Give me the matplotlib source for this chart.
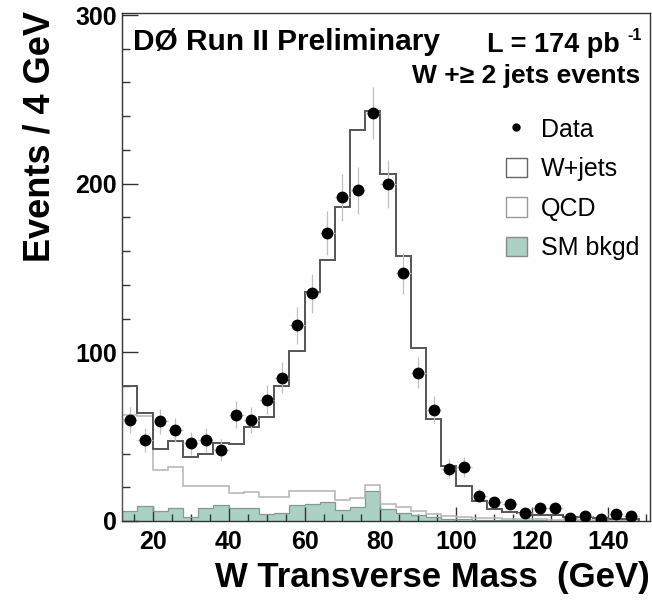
import numpy as np
import matplotlib
matplotlib.use('Agg')
from matplotlib import pyplot as plt
from matplotlib.patches import Patch
from matplotlib.lines import Line2D
from matplotlib.ticker import MultipleLocator

plt.rcParams['font.family'] = ['Liberation Sans', 'DejaVu Sans']

# 4 GeV bins from 12 to 148 GeV
bin_edges = np.arange(12, 152, 4)

data_counts = [60, 48, 59, 54, 46, 48, 42, 63, 60, 72, 85, 116, 135, 171, 192,
               196, 242, 200, 147, 88, 66, 31, 32, 15, 11, 10, 5, 8, 8, 2, 3,
               1, 4, 3]

sm_bkgd = [6, 9, 6, 7.5, 2.5, 7.5, 9.5, 7.5, 7.5, 4, 5, 9.5, 10, 11, 6.5, 8.3,
           17.5, 7, 5, 3.4, 2.2, 1.4, 1, 0.6, 0.5, 0.4, 0.3, 0.3, 0.2, 0.2,
           0.2, 0.1, 0.1, 0.1]

qcd = [57, 53, 24, 24.5, 18, 13.5, 11.5, 9, 9.5, 10.5, 9.5, 8.5, 8, 7, 6, 5.5,
       3.8, 3, 3.3, 2.6, 2, 1.6, 1.6, 1.4, 1.1, 0.9, 0.7, 0.6, 0.6, 0.4, 0.3,
       0.3, 0.2, 0.2]

wjets = [17, 2, 12.5, 15.5, 17.5, 19, 25.5, 29, 38.5, 47, 65.5, 83, 117.5, 137,
         173.5, 218.2, 221.7, 195.5, 148.7, 96.5, 56.3, 29.5, 18.4, 10, 5.4,
         4.2, 3.8, 2.6, 2.7, 1.6, 1.7, 1.1, 0.9, 0.7]

GREEN = '#abd0c4'


def plot(ax):
    centers = 0.5 * (bin_edges[:-1] + bin_edges[1:])
    sm = np.array(sm_bkgd)
    sm_qcd = sm + np.array(qcd)
    total = sm_qcd + np.array(wjets)

    # stacked prediction: SM bkgd (filled), + QCD, + W+jets
    ax.stairs(sm, bin_edges, fill=True, color=GREEN, zorder=1)
    ax.stairs(sm, bin_edges, color='#7d9c93', lw=0.9, zorder=2)
    ax.stairs(sm_qcd, bin_edges, color='#b4b4b4', lw=1.1, zorder=2)
    ax.stairs(total, bin_edges, color='#555555', lw=1.4, zorder=3)

    counts = np.array(data_counts)
    ax.errorbar(centers, counts, yerr=np.sqrt(counts), xerr=2, fmt='o',
                color='black', ecolor='#c0c0c0', elinewidth=0.9,
                markersize=7.5, capsize=0, zorder=4)

    ax.set_xlim(12, 151)
    ax.set_ylim(0, 301.5)
    ax.xaxis.set_major_locator(MultipleLocator(20))
    ax.xaxis.set_minor_locator(MultipleLocator(5))
    ax.yaxis.set_major_locator(MultipleLocator(100))
    ax.yaxis.set_minor_locator(MultipleLocator(20))
    ax.set_xticks([20, 40, 60, 80, 100, 120, 140])
    ax.tick_params(which='both', direction='in', top=False, right=False,
                   width=1, color='#333333')
    ax.tick_params(axis='y', which='major', length=11.5, pad=4,
                   labelsize=18)
    ax.tick_params(axis='y', which='minor', length=5.8)
    ax.tick_params(axis='x', which='major', length=10, pad=6.5,
                   labelsize=18)
    ax.tick_params(axis='x', which='minor', length=5)
    for lab in ax.get_xticklabels() + ax.get_yticklabels():
        lab.set_fontweight('bold')
    for s in ax.spines.values():
        s.set_color('#333333')
        s.set_linewidth(1)

    handles = [
        Line2D([], [], marker='o', color='black', linestyle='none',
               markersize=5),
        Patch(facecolor='white', edgecolor='#666666', lw=1),
        Patch(facecolor='white', edgecolor='#9a9a9a', lw=1),
        Patch(facecolor=GREEN, edgecolor='#888888', lw=1),
    ]
    ax.legend(handles, ['Data', 'W+jets', 'QCD', 'SM bkgd'],
              loc='upper left', bbox_to_anchor=(0.703, 0.818),
              frameon=False, fontsize=18, handlelength=0.85,
              handleheight=0.82, handletextpad=0.55, labelspacing=0.62,
              borderpad=0)


fig = plt.figure(figsize=(6.52, 6.03), dpi=100)
ax = fig.add_axes([122.3 / 652, 1 - 521 / 603, (650 - 122.3) / 652,
                   (521 - 12.5) / 603])
plot(ax)

W, H = 652.0, 603.0
fig.text(133 / W, 1 - 42 / H, 'DØ Run II Preliminary', fontsize=21.5,
         fontweight='bold', ha='left', va='center')
fig.text(487 / W, 1 - 45 / H, 'L = 174 pb', fontsize=19.5,
         fontweight='bold', ha='left', va='center')
fig.text(627 / W, 1 - 35 / H, '-1', fontsize=11.5, fontweight='bold',
         ha='left', va='center')
fig.text(640 / W, 1 - 76 / H, 'W +≥ 2 jets events', fontsize=19,
         fontweight='bold', ha='right', va='center')

fig.text(40 / W, 1 - 137 / H, 'Events / 4 GeV', fontsize=26,
         fontweight='bold', rotation=90, ha='center', va='center')
fig.text(650 / W, 1 - 578 / H, 'W Transverse Mass  (GeV)', fontsize=25,
         fontweight='bold', ha='right', va='center')

fig.savefig('out.png', dpi=100)
